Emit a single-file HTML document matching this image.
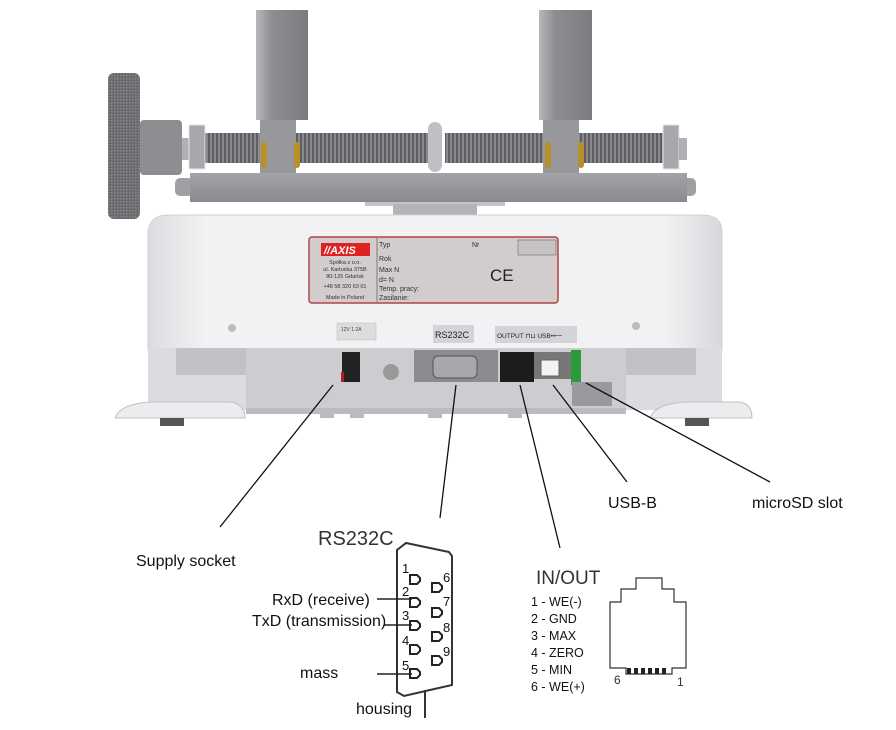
<!DOCTYPE html>
<html><head><meta charset="utf-8"><style>
html,body{margin:0;padding:0;background:#fff;width:896px;height:730px;overflow:hidden}
svg{display:block}
text{font-family:"Liberation Sans",Arial,sans-serif;fill:#111}
</style></head><body>
<svg width="896" height="730" viewBox="0 0 896 730" xmlns="http://www.w3.org/2000/svg">
<defs>
<linearGradient id="col" x1="0" x2="1"><stop offset="0" stop-color="#b8b8bc"/><stop offset=".3" stop-color="#8e8e92"/><stop offset="1" stop-color="#7c7c80"/></linearGradient>
<linearGradient id="bar" x1="0" y1="0" x2="0" y2="1"><stop offset="0" stop-color="#a4a4a8"/><stop offset="1" stop-color="#8a8a8e"/></linearGradient>
<linearGradient id="body" x1="0" y1="0" x2="1" y2="0"><stop offset="0" stop-color="#dcdce0"/><stop offset=".1" stop-color="#f2f2f4"/><stop offset=".9" stop-color="#f2f2f4"/><stop offset="1" stop-color="#d8d8dc"/></linearGradient>
<pattern id="thr" width="4" height="30" patternUnits="userSpaceOnUse"><rect width="4" height="30" fill="#8a8a8e"/><rect width="2" height="30" fill="#5e5e62"/></pattern>
<pattern id="knurl" width="3" height="3" patternUnits="userSpaceOnUse"><rect width="3" height="3" fill="#6a6a6e"/><rect width="1.5" height="1.5" fill="#8a8a8e"/></pattern>
</defs>
<rect x="256" y="10" width="52" height="110" fill="url(#col)"/>
<rect x="539" y="10" width="53" height="110" fill="url(#col)"/>
<rect x="108" y="73" width="32" height="146" rx="6" fill="url(#knurl)"/>
<rect x="140" y="120" width="42" height="55" rx="4" fill="#8e8e92"/>
<rect x="182" y="138" width="8" height="22" fill="#b0b0b4"/>
<rect x="205" y="133" width="230" height="30" fill="url(#thr)"/>
<rect x="445" y="133" width="218" height="30" fill="url(#thr)"/>
<rect x="189" y="125" width="16" height="44" fill="#a8a8ac" stroke="#e6e6e8"/>
<rect x="663" y="125" width="16" height="44" fill="#a8a8ac" stroke="#e6e6e8"/>
<rect x="679" y="138" width="8" height="22" fill="#b0b0b4"/>
<rect x="260" y="120" width="36" height="55" fill="#98989c"/>
<rect x="543" y="120" width="36" height="55" fill="#98989c"/>
<rect x="261" y="142" width="6" height="26" rx="3" fill="#b8902a"/><rect x="294" y="142" width="6" height="26" rx="3" fill="#b8902a"/>
<rect x="545" y="142" width="6" height="26" rx="3" fill="#b8902a"/><rect x="578" y="142" width="6" height="26" rx="3" fill="#b8902a"/>
<rect x="428" y="122" width="14" height="50" rx="7" fill="#c0c0c4"/>
<rect x="175" y="178" width="18" height="18" rx="5" fill="#a0a0a4"/>
<rect x="682" y="178" width="14" height="18" rx="5" fill="#a0a0a4"/>
<rect x="190" y="173" width="497" height="29" fill="url(#bar)"/>
<rect x="365" y="202" width="140" height="4" fill="#c4c4c8"/>
<rect x="393" y="204" width="84" height="13" fill="#b4b4b8"/>
<path d="M148 232 Q150 215 168 215 L702 215 Q722 215 722 232 L722 350 L148 350 Z" fill="url(#body)" stroke="#d0d0d4"/>
<rect x="148" y="348" width="574" height="62" fill="#dcdce0"/>
<rect x="176" y="348" width="70" height="27" fill="#c2c2c6"/>
<rect x="626" y="348" width="70" height="27" fill="#c2c2c6"/>
<rect x="246" y="348" width="380" height="62" fill="#cdcdd1"/>
<rect x="246" y="408" width="380" height="6" fill="#bcbcc0"/>
<rect x="309" y="237" width="249" height="66" rx="3" fill="#d2cccc" stroke="#b04444" stroke-width="1.5"/>
<line x1="377" y1="238" x2="377" y2="302" stroke="#666" stroke-width=".8"/>
<rect x="321" y="243" width="49" height="13" fill="#d22"/>
<text x="324" y="254" font-size="11" font-weight="bold" font-style="italic" style="fill:#fff">//AXIS</text>
<text x="345" y="264" font-size="5.5" text-anchor="middle" style="fill:#333">Spółka z o.o.</text>
<text x="345" y="271" font-size="5.5" text-anchor="middle" style="fill:#333">ul. Kartuska 375B</text>
<text x="345" y="278" font-size="5.5" text-anchor="middle" style="fill:#333">80-125 Gdańsk</text>
<text x="345" y="288" font-size="5.5" text-anchor="middle" style="fill:#333">+48 58 320 63 01</text>
<text x="345" y="299" font-size="5.5" text-anchor="middle" style="fill:#333">Made in Poland</text>
<text x="379" y="247" font-size="7" style="fill:#333">Typ</text>
<text x="472" y="247" font-size="7" style="fill:#333">Nr</text>
<rect x="518" y="240" width="38" height="15" fill="#c8c2c2" stroke="#666" stroke-width=".6"/>
<text x="379" y="261" font-size="7" style="fill:#333">Rok</text>
<text x="379" y="272" font-size="7" style="fill:#333">Max    N</text>
<text x="379" y="282" font-size="7" style="fill:#333">d=    N</text>
<text x="379" y="291" font-size="7" style="fill:#333">Temp. pracy:</text>
<text x="379" y="300" font-size="7" style="fill:#333">Zasilanie:</text>
<text x="490" y="281" font-size="17" style="fill:#222">CE</text>
<circle cx="232" cy="328" r="4" fill="#bbb"/><circle cx="636" cy="326" r="4" fill="#bbb"/>
<rect x="337" y="323" width="39" height="17" fill="#ddd" stroke="#bbb" stroke-width=".5"/>
<text x="341" y="331" font-size="5" style="fill:#444">12V 1.2A</text>
<rect x="433" y="325" width="41" height="18" fill="#d4d4d8"/>
<text x="435" y="338" font-size="9" style="fill:#222">RS232C</text>
<rect x="495" y="326" width="82" height="17" fill="#d4d4d8"/>
<text x="497" y="338" font-size="6.5" style="fill:#222">OUTPUT ⊓⊔ USB•⟵</text>
<rect x="342" y="352" width="18" height="30" fill="#222"/>
<rect x="341" y="372" width="3" height="10" fill="#a22"/>
<circle cx="391" cy="372" r="8" fill="#999"/>
<rect x="414" y="350" width="84" height="32" fill="#8c8c90"/>
<rect x="433" y="356" width="44" height="22" rx="5" fill="#a8a8ac" stroke="#555"/>
<rect x="500" y="352" width="34" height="30" fill="#1c1c1c"/>
<rect x="534" y="352" width="38" height="27" fill="#777"/>
<rect x="541" y="360" width="18" height="16" fill="#f2f2f2" stroke="#666"/>
<rect x="571" y="350" width="10" height="35" fill="#2a9a3a"/>
<rect x="572" y="382" width="40" height="24" fill="#9a9a9e"/>
<path d="M115 418 Q120 404 150 402 L230 402 Q245 404 245 418 Z" fill="#ececee" stroke="#c0c0c4"/>
<rect x="160" y="418" width="24" height="8" fill="#555"/>
<path d="M650 418 Q655 404 685 402 L740 402 Q752 404 752 418 Z" fill="#ececee" stroke="#c0c0c4"/>
<rect x="685" y="418" width="24" height="8" fill="#555"/>
<rect x="320" y="408" width="14" height="10" fill="#bbb"/><rect x="350" y="408" width="14" height="10" fill="#bbb"/>
<rect x="428" y="408" width="14" height="10" fill="#bbb"/><rect x="508" y="408" width="14" height="10" fill="#bbb"/>
<g stroke="#111" stroke-width="1.3">
<line x1="333" y1="385" x2="220" y2="527"/>
<line x1="456" y1="385" x2="440" y2="518"/>
<line x1="520" y1="385" x2="560" y2="548"/>
<line x1="553" y1="385" x2="627" y2="482"/>
<line x1="586" y1="383" x2="770" y2="482"/>
</g>
<text x="136" y="566" font-size="16">Supply socket</text>
<text x="608" y="508" font-size="16">USB-B</text>
<text x="752" y="508" font-size="16">microSD slot</text>
<text x="318" y="545" font-size="20" style="fill:#333">RS232C</text>
<path d="M397 550 L406 543 L449 552 L452 556 L452 685 L430 690 L404 696 L397 692 Z" fill="none" stroke="#333" stroke-width="2"/>
<line x1="425" y1="690" x2="425" y2="718" stroke="#333" stroke-width="2"/>
<g stroke="#222" stroke-width="2" fill="#fff">
<path d="M410 575 h7 l3 3 v3 l-3 3 h-7 z"/>
<path d="M410 598 h7 l3 3 v3 l-3 3 h-7 z"/>
<path d="M410 621 h7 l3 3 v3 l-3 3 h-7 z"/>
<path d="M410 645 h7 l3 3 v3 l-3 3 h-7 z"/>
<path d="M410 669 h7 l3 3 v3 l-3 3 h-7 z"/>
<path d="M432 583 h7 l3 3 v3 l-3 3 h-7 z"/>
<path d="M432 608 h7 l3 3 v3 l-3 3 h-7 z"/>
<path d="M432 632 h7 l3 3 v3 l-3 3 h-7 z"/>
<path d="M432 656 h7 l3 3 v3 l-3 3 h-7 z"/>
</g>
<g font-size="13" style="fill:#333">
<text x="402" y="573">1</text><text x="402" y="596">2</text><text x="402" y="620">3</text><text x="402" y="645">4</text><text x="402" y="670">5</text>
<text x="443" y="582">6</text><text x="443" y="606">7</text><text x="443" y="632">8</text><text x="443" y="656">9</text>
</g>
<g stroke="#222" stroke-width="1.6">
<line x1="377" y1="599" x2="412" y2="599"/>
<line x1="384" y1="625" x2="412" y2="625"/>
<line x1="377" y1="674" x2="412" y2="674"/>
</g>
<g font-size="16" style="fill:#333">
<text x="272" y="605">RxD (receive)</text>
<text x="252" y="626">TxD (transmission)</text>
<text x="300" y="678">mass</text>
<text x="356" y="714">housing</text>
</g>
<text x="536" y="584" font-size="19" style="fill:#333">IN/OUT</text>
<g font-size="12.5" style="fill:#333">
<text x="531" y="606">1 - WE(-)</text>
<text x="531" y="623">2 - GND</text>
<text x="531" y="640">3 - MAX</text>
<text x="531" y="657">4 - ZERO</text>
<text x="531" y="674">5 - MIN</text>
<text x="531" y="691">6 - WE(+)</text>
</g>
<path d="M610 668 V602 H621 V589 H636 V578 H662 V589 H674 V602 H686 V668 H672 V674 H626 V668 Z" fill="#fff" stroke="#333" stroke-width="1.2"/>
<g fill="#222"><rect x="627" y="668" width="4" height="6"/><rect x="634" y="668" width="4" height="6"/><rect x="641" y="668" width="4" height="6"/><rect x="648" y="668" width="4" height="6"/><rect x="655" y="668" width="4" height="6"/><rect x="662" y="668" width="4" height="6"/></g>
<text x="614" y="684" font-size="12" style="fill:#333">6</text>
<text x="677" y="686" font-size="12" style="fill:#333">1</text>
</svg>
</body></html>
